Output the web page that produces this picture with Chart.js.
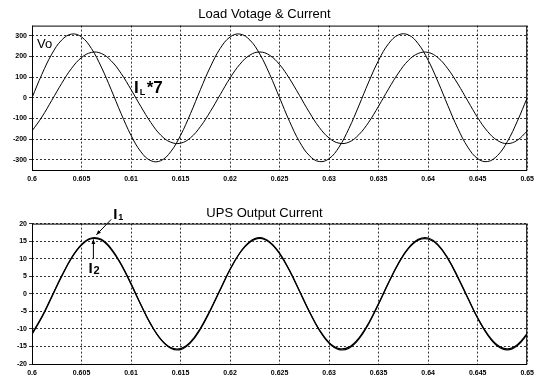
<!DOCTYPE html>
<html>
<head>
<meta charset="utf-8">
<script src="https://cdn.jsdelivr.net/npm/chart.js@4.4.1/dist/chart.umd.min.js"></script>
<style>
  body { margin: 0; background: #fff; }
  .box { position: absolute; left: 0; width: 539px; }
  #top { top: 0; height: 190px; }
  #bottom { top: 190px; height: 193px; }
</style>
</head>
<body>
<div class="box" id="top"><canvas id="loadChart"></canvas></div>
<div class="box" id="bottom"><canvas id="upsChart"></canvas></div>
<script>
// time axis (s)
const times = [0.600, 0.601, 0.602, 0.603, 0.604, 0.605, 0.606, 0.607, 0.608, 0.609,
  0.610, 0.611, 0.612, 0.613, 0.614, 0.615, 0.616, 0.617, 0.618, 0.619,
  0.620, 0.621, 0.622, 0.623, 0.624, 0.625, 0.626, 0.627, 0.628, 0.629,
  0.630, 0.631, 0.632, 0.633, 0.634, 0.635, 0.636, 0.637, 0.638, 0.639,
  0.640, 0.641, 0.642, 0.643, 0.644, 0.645, 0.646, 0.647, 0.648, 0.649, 0.650];

// load voltage Vo
const vo = [0, 114, 212, 280, 309, 295, 239, 149, 39, -77,
  -182, -262, -305, -305, -262, -182, -77, 39, 149, 239,
  295, 309, 280, 212, 114, 0, -114, -212, -280, -309,
  -295, -239, -149, -39, 77, 182, 262, 305, 305, 262,
  182, 77, -39, -149, -239, -295, -309, -280, -212, -114, 0];

// load current x7
const iL7 = [-161, -93, -12, 70, 143, 195, 220, 215, 179, 118,
  40, -43, -120, -181, -215, -220, -194, -140, -67, 15,
  96, 163, 207, 222, 206, 161, 93, 12, -70, -143,
  -195, -220, -215, -179, -118, -40, 43, 120, 181, 215,
  220, 194, 140, 67, -15, -96, -163, -207, -222, -206, -161];

// UPS output currents
const i1 = [-11.6, -6.7, -0.9, 5.0, 10.3, 14.1, 15.9, 15.5, 12.9, 8.5,
  2.9, -3.1, -8.7, -13.0, -15.5, -15.9, -14.0, -10.1, -4.8, 1.1,
  6.9, 11.7, 14.9, 16.0, 14.8, 11.6, 6.7, 0.9, -5.0, -10.3,
  -14.1, -15.9, -15.5, -12.9, -8.5, -2.9, 3.1, 8.7, 13.0, 15.5,
  15.9, 14.0, 10.1, 4.8, -1.1, -6.9, -11.7, -14.9, -16.0, -14.8, -11.6];

const i2 = [-11.3, -6.5, -0.7, 5.1, 10.2, 13.9, 15.7, 15.3, 12.6, 8.3,
  2.7, -3.2, -8.7, -12.9, -15.3, -15.6, -13.7, -9.8, -4.6, 1.2,
  7.0, 11.7, 14.7, 15.8, 14.6, 11.4, 6.6, 0.8, -5.1, -10.2,
  -13.9, -15.6, -15.2, -12.6, -8.3, -2.7, 3.2, 8.6, 12.9, 15.3,
  15.6, 13.8, 9.9, 4.6, -1.2, -6.9, -11.5, -14.6, -15.7, -14.5, -11.3];

const xTicks = [0.6, 0.605, 0.61, 0.615, 0.62, 0.625, 0.63, 0.635, 0.64, 0.645, 0.65];
const xTickLabels = ['0.6', '0.605', '0.61', '0.615', '0.62', '0.625', '0.63', '0.635', '0.64', '0.645', '0.65'];
const loadTicks = [-300, -200, -100, 0, 100, 200, 300];
const upsTicks = [-20, -15, -10, -5, 0, 5, 10, 15, 20];

const FONT = '"Liberation Sans", Arial, sans-serif';

function pairs(ys) {
    return times.map((t, i) => ({ x: t, y: ys[i] }));
}

function line(label, ys, width) {
    return {
        label: label,
        data: pairs(ys),
        borderColor: '#000',
        borderWidth: width,
        pointRadius: 0,
        tension: 0.4,
        fill: false
    };
}

const frame = {
    id: 'frame',
    afterDraw(chart) {
        const a = chart.chartArea;
        const ctx = chart.ctx;
        ctx.save();
        ctx.strokeStyle = '#000';
        ctx.lineWidth = 1;
        ctx.strokeRect(a.left + 0.5, a.top + 0.5, a.right - a.left - 1, a.bottom - a.top);
        ctx.restore();
    }
};

function options(title, titlePad, yMin, yMax, yTicks, xHeight) {
    return {
        responsive: true,
        maintainAspectRatio: false,
        animation: false,
        layout: { padding: { left: 0, right: 10, top: 0, bottom: 0 } },
        plugins: {
            legend: { display: false },
            tooltip: { enabled: false },
            title: {
                display: true,
                text: title,
                color: '#000',
                font: { family: FONT, size: 13, weight: 'normal' },
                padding: titlePad
            }
        },
        scales: {
            x: {
                type: 'linear',
                min: 0.6,
                max: 0.65,
                afterBuildTicks: s => { s.ticks = xTicks.map(v => ({ value: v })); },
                afterFit: s => { s.height = xHeight; },
                ticks: {
                    color: '#000',
                    font: { family: FONT, size: 7, weight: 'bold' },
                    padding: 5,
                    maxRotation: 0,
                    autoSkip: false,
                    callback: v => xTickLabels[xTicks.indexOf(v)]
                },
                grid: { color: '#000', lineWidth: 0.8, drawTicks: false },
                border: { display: false, dash: [2, 2] }
            },
            y: {
                min: yMin,
                max: yMax,
                afterBuildTicks: s => { s.ticks = yTicks.map(v => ({ value: v })); },
                afterFit: s => { s.width = 32; },
                ticks: {
                    color: '#000',
                    font: { family: FONT, size: 7, weight: 'bold' },
                    padding: 2,
                    autoSkip: false
                },
                grid: { color: '#000', lineWidth: 0.8, drawTicks: true, tickLength: 3 },
                border: { display: false, dash: [2, 2] }
            }
        }
    };
}

function arrow(ctx, x1, y1, x2, y2) {
    ctx.beginPath();
    ctx.moveTo(x1, y1);
    ctx.lineTo(x2, y2);
    ctx.stroke();
    const ang = Math.atan2(y2 - y1, x2 - x1);
    ctx.beginPath();
    ctx.moveTo(x2, y2);
    ctx.lineTo(x2 - 5 * Math.cos(ang - 0.4), y2 - 5 * Math.sin(ang - 0.4));
    ctx.lineTo(x2 - 5 * Math.cos(ang + 0.4), y2 - 5 * Math.sin(ang + 0.4));
    ctx.closePath();
    ctx.fill();
}

const loadNotes = {
    id: 'loadNotes',
    afterDraw(chart) {
        const x = chart.scales.x, y = chart.scales.y, ctx = chart.ctx;
        ctx.save();
        ctx.fillStyle = '#000';
        ctx.textBaseline = 'middle';
        ctx.font = '13px ' + FONT;
        ctx.fillText('Vo', x.getPixelForValue(0.6005), y.getPixelForValue(257));
        const px = x.getPixelForValue(0.6103), py = y.getPixelForValue(45);
        ctx.font = 'bold 17px ' + FONT;
        ctx.fillText('I', px, py);
        const w = ctx.measureText('I').width;
        ctx.font = 'bold 9px ' + FONT;
        ctx.fillText('L', px + w + 1, py + 4);
        ctx.font = 'bold 17px ' + FONT;
        ctx.fillText('*7', px + w + 8, py);
        ctx.restore();
    }
};

const upsNotes = {
    id: 'upsNotes',
    afterDraw(chart) {
        const x = chart.scales.x, y = chart.scales.y, ctx = chart.ctx;
        ctx.save();
        ctx.fillStyle = '#000';
        ctx.strokeStyle = '#000';
        ctx.lineWidth = 1;
        ctx.textBaseline = 'middle';
        // I1
        let px = x.getPixelForValue(0.6082), py = y.getPixelForValue(22.6);
        ctx.font = 'bold 15px ' + FONT;
        ctx.fillText('I', px, py);
        ctx.font = 'bold 9px ' + FONT;
        ctx.fillText('1', px + 5, py + 3);
        arrow(ctx, x.getPixelForValue(0.6080), y.getPixelForValue(21.2),
            x.getPixelForValue(0.6065), y.getPixelForValue(16.8));
        // I2
        px = x.getPixelForValue(0.6057); py = y.getPixelForValue(7.0);
        ctx.font = 'bold 15px ' + FONT;
        ctx.fillText('I', px, py);
        ctx.font = 'bold 11px ' + FONT;
        ctx.fillText('2', px + 5, py + 2);
        arrow(ctx, x.getPixelForValue(0.6062), y.getPixelForValue(10.1),
            x.getPixelForValue(0.6062), y.getPixelForValue(15.5));
        ctx.restore();
    }
};

new Chart(document.getElementById('loadChart'), {
    type: 'line',
    data: { datasets: [line('Vo', vo, 1), line('IL*7', iL7, 1)] },
    options: options('Load Votage & Current', { top: 7, bottom: 3 }, -350, 350, loadTicks, 20),
    plugins: [frame, loadNotes]
});

new Chart(document.getElementById('upsChart'), {
    type: 'line',
    data: { datasets: [line('I1', i1, 1.2), line('I2', i2, 1.2)] },
    options: options('UPS Output Current', { top: 16, bottom: 2 }, -20, 20, upsTicks, 19),
    plugins: [frame, upsNotes]
});
</script>
</body>
</html>
